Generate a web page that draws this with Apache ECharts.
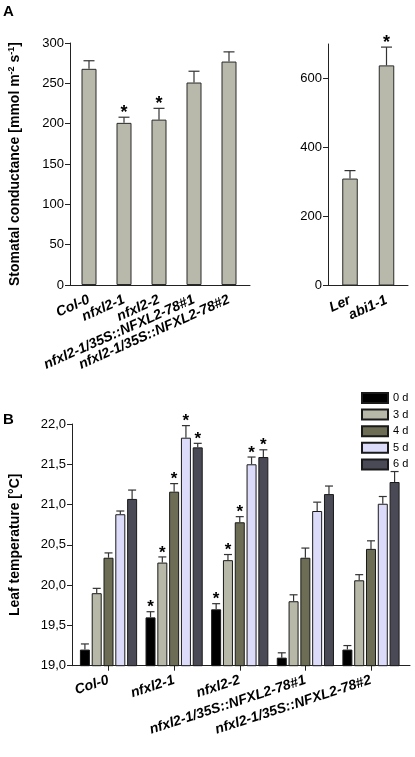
<!DOCTYPE html>
<html>
<head>
<meta charset="utf-8">
<script src="https://cdn.jsdelivr.net/npm/echarts@6/dist/echarts.min.js"></script>
<style>
html,body{margin:0;padding:0;background:#fff;}
#c{width:415px;height:757px;}
</style>
</head>
<body>
<div id="c"></div>
<script>
// ---- Panel A (left): stomatal conductance ----
const catsA = ['Col-0', 'nfxl2-1', 'nfxl2-2', 'nfxl2-1/35S::NFXL2-78#1', 'nfxl2-1/35S::NFXL2-78#2'];
const condA = [268, 201, 205, 251, 277];
const condAErr = [10, 7, 14, 14, 12];
const sigA = [0, 1, 1, 0, 0];
const ticksA = [0, 50, 100, 150, 200, 250, 300];

// ---- Panel A (right) ----
const catsA2 = ['Ler', 'abi1-1'];
const condA2 = [310, 638];
const condA2Err = [23, 53];
const sigA2 = [0, 1];
const ticksA2 = [0, 200, 400, 600];

// ---- Panel B: leaf temperature ----
const catsB = ['Col-0', 'nfxl2-1', 'nfxl2-2', 'nfxl2-1/35S::NFXL2-78#1', 'nfxl2-1/35S::NFXL2-78#2'];
const days = ['0 d', '3 d', '4 d', '5 d', '6 d'];
const temp0d = [19.20, 19.60, 19.70, 19.10, 19.20];
const temp3d = [19.90, 20.28, 20.31, 19.80, 20.06];
const temp4d = [20.34, 21.16, 20.78, 20.34, 20.45];
const temp5d = [20.88, 21.83, 21.50, 20.92, 21.01];
const temp6d = [21.07, 21.71, 21.59, 21.13, 21.28];
const err0d = [0.07, 0.07, 0.07, 0.06, 0.05];
const err3d = [0.06, 0.07, 0.07, 0.08, 0.07];
const err4d = [0.06, 0.10, 0.07, 0.12, 0.10];
const err5d = [0.04, 0.15, 0.09, 0.11, 0.09];
const err6d = [0.11, 0.05, 0.09, 0.10, 0.13];
const sig0d = [0, 1, 1, 0, 0];
const sig3d = [0, 1, 1, 0, 0];
const sig4d = [0, 1, 1, 0, 0];
const sig5d = [0, 1, 1, 0, 0];
const sig6d = [0, 1, 1, 0, 0];

const tempB = [temp0d, temp3d, temp4d, temp5d, temp6d];
const errB = [err0d, err3d, err4d, err5d, err6d];
const sigB = [sig0d, sig3d, sig4d, sig5d, sig6d];
const colorsB = ['#000000', '#b8b8a8', '#6d6d55', '#dcdcfa', '#4a4a56'];

const FONT = 'Liberation Sans, Arial, sans-serif';
const AXIS_COLOR = '#222';
const B_BAR_W = 10, B_GAP = 0.18;

function errRender(capHalf, starSize, offsetFn) {
  return function (params, api) {
    const x = api.value(0), v = api.value(1), e = api.value(2), sig = api.value(3), k = api.value(4);
    const base = api.coord([x, v]);
    const top = api.coord([x, v + e]);
    const cx = base[0] + offsetFn(k);
    const children = [
      {type: 'line', shape: {x1: cx, y1: base[1], x2: cx, y2: top[1]}, style: {stroke: '#333', lineWidth: 1.2}},
      {type: 'line', shape: {x1: cx - capHalf, y1: top[1], x2: cx + capHalf, y2: top[1]}, style: {stroke: '#333', lineWidth: 1.2}}
    ];
    if (sig) {
      children.push({type: 'text', style: {text: '*', x: cx, y: top[1] - 4, align: 'center', verticalAlign: 'middle',
        font: 'bold ' + starSize + 'px ' + FONT, fill: '#000'}});
    }
    return {type: 'group', children: children};
  };
}

function xLabel(rot) {
  return {rotate: rot, fontSize: 14, fontWeight: 'bold', fontStyle: 'italic', color: '#000', margin: 14, fontFamily: FONT, interval: 0};
}

const option = {
  animation: false,
  textStyle: {fontFamily: FONT},
  title: [
    {text: 'A', left: 3, top: 4, padding: 0, textStyle: {fontSize: 15, fontWeight: 'bold', color: '#000', fontFamily: FONT}},
    {text: 'B', left: 3, top: 412, padding: 0, textStyle: {fontSize: 15, fontWeight: 'bold', color: '#000', fontFamily: FONT}}
  ],
  legend: {
    data: days, orient: 'vertical', left: 361, top: 392, itemWidth: 26, itemHeight: 10, itemGap: 4.6,
    icon: 'rect', textStyle: {fontSize: 11, color: '#000', fontFamily: FONT}, padding: 0
  },
  grid: [
    {left: 71.5, top: 43, width: 175, height: 242},   // 0 A-left bars
    {left: 70, top: 43, width: 180, height: 242},     // 1 A-left axes
    {left: 331.75, top: 44, width: 73, height: 241.5},// 2 A-right bars
    {left: 328, top: 44, width: 80, height: 241.5},   // 3 A-right axes
    {left: 75.7, top: 424, width: 328.1, height: 241.7}, // 4 B bars
    {left: 70, top: 424, width: 340, height: 241.7}   // 5 B axes
  ],
  xAxis: [
    {gridIndex: 0, type: 'category', data: catsA, axisLine: {show: false}, axisTick: {show: false}, axisLabel: xLabel(24)},
    {gridIndex: 1, type: 'category', data: [''], axisLine: {lineStyle: {color: AXIS_COLOR, width: 1}}, axisTick: {show: false}, axisLabel: {show: false}},
    {gridIndex: 2, type: 'category', data: catsA2, axisLine: {show: false}, axisTick: {show: false}, axisLabel: xLabel(24)},
    {gridIndex: 3, type: 'category', data: [''], axisLine: {lineStyle: {color: AXIS_COLOR, width: 1}}, axisTick: {show: false}, axisLabel: {show: false}},
    {gridIndex: 4, type: 'category', data: catsB, axisLine: {show: false}, axisTick: {show: true, alignWithLabel: true, length: 5, lineStyle: {color: AXIS_COLOR}}, axisLabel: xLabel(18)},
    {gridIndex: 5, type: 'category', data: [''], axisLine: {lineStyle: {color: AXIS_COLOR, width: 1}}, axisTick: {show: false}, axisLabel: {show: false}}
  ],
  yAxis: [
    {gridIndex: 0, type: 'value', min: 0, max: 300, interval: 50, show: false},
    {gridIndex: 1, type: 'value', min: 0, max: 300, interval: 50,
      axisLine: {show: true, lineStyle: {color: AXIS_COLOR, width: 1}}, axisTick: {show: true, length: 5, lineStyle: {color: AXIS_COLOR}},
      splitLine: {show: false}, axisLabel: {fontSize: 13, color: '#000', margin: 6, fontFamily: FONT, customValues: ticksA},
      name: '{a|Stomatal conductance [mmol m}{s|-2}{a| s}{s|-1}{a|]}', nameLocation: 'middle', nameGap: 47,
      nameTextStyle: {rich: {a: {fontSize: 14, fontWeight: 'bold', color: '#000', fontFamily: FONT, lineHeight: 16},
        s: {fontSize: 9, fontWeight: 'bold', color: '#000', fontFamily: FONT, verticalAlign: 'top', lineHeight: 9}}}},
    {gridIndex: 2, type: 'value', min: 0, max: 700, interval: 200, show: false},
    {gridIndex: 3, type: 'value', min: 0, max: 700, interval: 200,
      axisLine: {show: true, lineStyle: {color: AXIS_COLOR, width: 1}},
      axisTick: {show: true, length: 5, lineStyle: {color: AXIS_COLOR}, customValues: ticksA2},
      splitLine: {show: false}, axisLabel: {fontSize: 13, color: '#000', margin: 6, fontFamily: FONT, customValues: ticksA2}},
    {gridIndex: 4, type: 'value', min: 19, max: 22, interval: 0.5, show: false},
    {gridIndex: 5, type: 'value', min: 19, max: 22, interval: 0.5,
      axisLine: {show: true, lineStyle: {color: AXIS_COLOR, width: 1}}, axisTick: {show: true, length: 5, lineStyle: {color: AXIS_COLOR}},
      splitLine: {show: false},
      axisLabel: {fontSize: 13, color: '#000', margin: 6, fontFamily: FONT, formatter: v => v.toFixed(1).replace('.', ',')},
      name: 'Leaf temperature [°C]', nameLocation: 'middle', nameGap: 50,
      nameTextStyle: {fontSize: 14, fontWeight: 'bold', color: '#000', fontFamily: FONT}}
  ],
  series: []
};

// Panel A left bars
option.series.push({type: 'bar', xAxisIndex: 0, yAxisIndex: 0, data: condA, barWidth: 15,
  itemStyle: {color: '#b9b9ab', borderColor: '#2a2a2a', borderWidth: 1}});
option.series.push({type: 'custom', xAxisIndex: 0, yAxisIndex: 0, z: 5,
  data: condA.map((v, i) => [i, v, condAErr[i], sigA[i], 0]),
  encode: {x: 0, y: 1}, renderItem: errRender(5.5, 18, () => 0)});

// Panel A right bars
option.series.push({type: 'bar', xAxisIndex: 2, yAxisIndex: 2, data: condA2, barWidth: 15.5,
  itemStyle: {color: '#b9b9ab', borderColor: '#2a2a2a', borderWidth: 1}});
option.series.push({type: 'custom', xAxisIndex: 2, yAxisIndex: 2, z: 5,
  data: condA2.map((v, i) => [i, v, condA2Err[i], sigA2[i], 0]),
  encode: {x: 0, y: 1}, renderItem: errRender(5.5, 18, () => 0)});

// Panel B bars
days.forEach((d, k) => {
  option.series.push({type: 'bar', name: d, xAxisIndex: 4, yAxisIndex: 4, data: tempB[k], barWidth: B_BAR_W,
    barGap: (B_GAP * 100) + '%',
    itemStyle: {color: colorsB[k], borderColor: '#1a1a1a', borderWidth: 1}});
});
const errDataB = [];
days.forEach((d, k) => {
  tempB[k].forEach((v, i) => errDataB.push([i, v, errB[k][i], sigB[k][i], k]));
});
option.series.push({type: 'custom', xAxisIndex: 4, yAxisIndex: 4, z: 5, data: errDataB,
  encode: {x: 0, y: 1}, renderItem: errRender(4, 17, k => (k - 2) * B_BAR_W * (1 + B_GAP))});

const chart = echarts.init(document.getElementById('c'), null, {renderer: 'canvas'});
chart.setOption(option);
</script>
</body>
</html>
